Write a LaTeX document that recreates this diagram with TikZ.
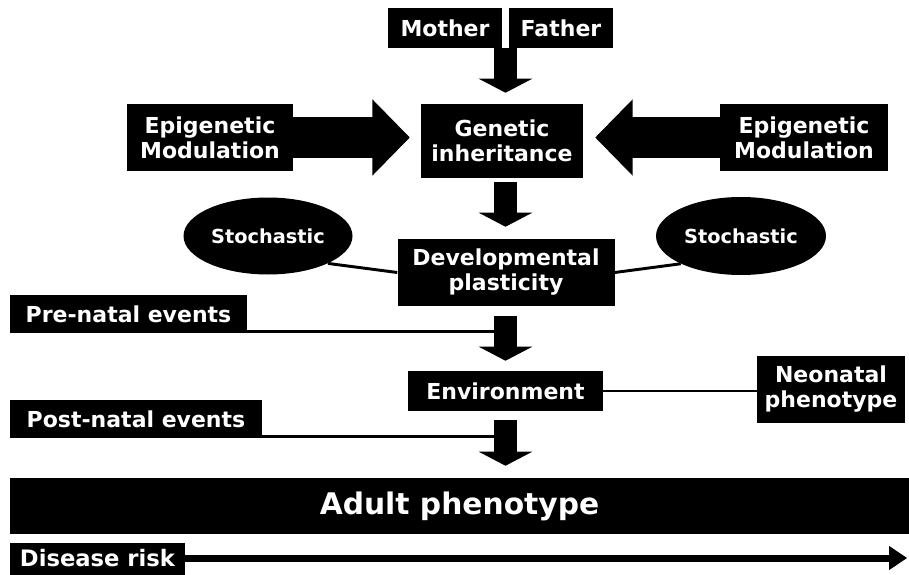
\documentclass[tikz,border=0pt]{standalone}
\usepackage{fontspec}
\setmainfont{DejaVu Sans}
\usetikzlibrary{arrows.meta,shapes.geometric,positioning}

\tikzset{
  blk/.style 2 args={fill=black,text=white,inner sep=0pt,align=center,
    font=\bfseries\fontsize{16.5}{18.75}\selectfont,
    minimum width=#1*0.75pt,minimum height=#2*0.75pt},
  blob/.style 2 args={ellipse,fill=black,text=white,inner sep=0pt,
    font=\bfseries\fontsize{14.5}{17}\selectfont,
    minimum width=#1*0.75pt,minimum height=#2*0.75pt},
  vfat/.style={line width=17.5pt,-{Triangle[length=10.5pt,width=40pt,line width=1pt]}},
  hfat/.style={line width=31pt,-{Triangle[length=28pt,width=57pt,line width=1pt]}},
  link/.style={line width=2.2pt}
}

\begin{document}
\begin{tikzpicture}[x=0.75pt,y=-0.75pt]
\useasboundingbox (0,0) rectangle (909,574);

% top row
\node[blk={114}{40}] (mother) at (445,28) {Mother};
\node[blk={104}{40}] (father) at (561,28) {Father};
\coordinate (mfgap) at (505.5,48);

% genetic level
\node[blk={162}{74}] (gen) at (502,141) {Genetic\\inheritance};
\node[blk={166}{67}] (epil) at (210,137.5) {Epigenetic\\Modulation};
\node[blk={168}{67}] (epir) at (804,137.5) {Epigenetic\\Modulation};

% development
\node[blk={217}{67}] (dev) at (506,272.5) {Developmental\\plasticity};
\node[blob={169}{77}] (stol) at (268,236) {Stochastic};
\node[blob={170}{78}] (stor) at (741,236) {Stochastic};

% events and environment
\node[blk={237}{38}] (pre) at (128.5,314) {Pre-natal events};
\node[blk={195}{40}] (env) at (505.5,391) {Environment};
\node[blk={148}{67}] (neo) at (831,389.5) {Neonatal\\phenotype};
\node[blk={252}{38}] (post) at (136,419) {Post-natal events};

% outcome
\node[blk={899}{56},font=\bfseries\fontsize{22.3}{26}\selectfont] (adult) at (459.5,506) {Adult phenotype};
\node[blk={175}{32},font=\bfseries\fontsize{17}{20}\selectfont] (risk) at (97.5,558.5) {Disease risk};
\coordinate (riskend) at (907,558);

% thin links
\draw[link] (stol.south east) -- (dev.west);
\draw[link] (dev.east) -- (stor.south west);
\draw[link] ([yshift=1.1pt]pre.south east) -- ([yshift=1.1pt]pre.south east -| mfgap);
\draw[link] ([yshift=1.1pt]post.south east) -- ([yshift=1.1pt]post.south east -| mfgap);
\draw[link] (env.east) -- (env.east -| neo.west);

% block arrows
\draw[vfat,shorten >=8.25pt] (mfgap) -- (mfgap |- gen.north);
\draw[hfat,shorten >=8.25pt] (epil.east) -- (epil.east -| gen.west);
\draw[hfat,shorten >=9pt] (epir.west) -- (epir.west -| gen.east);
\draw[vfat,shorten <=3pt,shorten >=9pt] (gen.south -| mfgap) -- (dev.north -| mfgap);
\draw[vfat,shorten <=7.5pt,shorten >=7.5pt] (dev.south -| mfgap) -- (env.north -| mfgap);
\draw[vfat,shorten <=6.75pt,shorten >=9pt] (env.south -| mfgap) -- (adult.north -| mfgap);
\draw[line width=5.25pt,-{Triangle[length=13.5pt,width=18pt,line width=0.8pt]}] (risk.east |- riskend) -- (riskend);
\end{tikzpicture}
\end{document}
